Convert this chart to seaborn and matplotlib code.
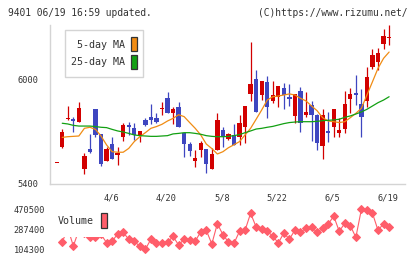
import numpy as np
import pandas as pd
import matplotlib
matplotlib.use("Agg")
import matplotlib.pyplot as plt
import matplotlib.transforms as mtransforms
from matplotlib.patches import Rectangle
import seaborn as sns

# ---------------- data ----------------
opens = [5519, 5614, 5774, 5773, 5757, 5488, 5601, 5830, 5687, 5534,
         5629, 5568, 5671, 5738, 5721, 5675, 5767, 5784, 5780, 5828,
         5891, 5809, 5839, 5694, 5629, 5534, 5597, 5601, 5488, 5595,
         5709, 5656, 5681, 5667, 5725, 5918, 6000, 5910, 5985, 5878,
         5900, 5948, 5900, 5792, 5933, 5795, 5853, 5795, 5620, 5704,
         5725, 5694, 5717, 5887, 5923, 5858, 5878, 6072, 6101, 6202, 6235]
highs = [5519, 5715, 5849, 5786, 5872, 5580, 5685, 5830, 5687, 5612,
         5671, 5610, 5748, 5757, 5748, 5704, 5776, 5858, 5805, 5872,
         5929, 5839, 5872, 5694, 5643, 5595, 5648, 5601, 5604, 5809,
         5725, 5690, 5744, 5795, 5847, 6214, 6053, 5990, 6019, 5990,
         5962, 5977, 5973, 5916, 5954, 5929, 5878, 5801, 5828, 5813,
         5828, 5776, 5933, 5948, 6025, 5942, 6072, 6172, 6177, 6286, 6311]
lows = [5519, 5604, 5767, 5700, 5757, 5459, 5576, 5667, 5503, 5530,
        5541, 5509, 5648, 5681, 5652, 5643, 5732, 5746, 5748, 5795,
        5809, 5742, 5729, 5557, 5561, 5499, 5553, 5465, 5488, 5595,
        5614, 5652, 5625, 5625, 5633, 5876, 5815, 5881, 5780, 5866,
        5843, 5828, 5847, 5748, 5700, 5782, 5648, 5595, 5545, 5641,
        5671, 5667, 5690, 5805, 5853, 5671, 5839, 6057, 6053, 6176, 6197]
closes = [5519, 5696, 5774, 5763, 5836, 5561, 5585, 5681, 5515, 5599,
          5541, 5580, 5740, 5729, 5681, 5704, 5738, 5769, 5757, 5828,
          5809, 5830, 5729, 5627, 5591, 5551, 5635, 5515, 5572, 5767,
          5667, 5687, 5625, 5748, 5847, 5973, 5815, 5990, 5843, 5910,
          5962, 5910, 5889, 5916, 5752, 5813, 5795, 5633, 5795, 5694,
          5828, 5709, 5858, 5916, 5912, 5786, 6011, 6139, 6149, 6248, 6235]

ma5 = [np.nan, 5667, 5671, 5673, 5675, 5719, 5725, 5713, 5675, 5624,
       5585, 5582, 5582, 5604, 5643, 5671, 5694, 5719, 5729, 5742,
       5761, 5776, 5797, 5786, 5752, 5719, 5681, 5629, 5603, 5572,
       5585, 5608, 5625, 5643, 5681, 5719, 5771, 5824, 5881, 5900,
       5904, 5910, 5916, 5910, 5891, 5876, 5847, 5820, 5780, 5761,
       5757, 5752, 5757, 5780, 5805, 5834, 5910, 5986, 6063, 6120, 6156]
ma25 = [np.nan, 5748, 5744, 5736, 5732, 5732, 5732, 5729, 5725, 5723,
        5713, 5704, 5698, 5690, 5681, 5677, 5675, 5673, 5673, 5675,
        5677, 5687, 5690, 5694, 5694, 5690, 5685, 5677, 5673, 5671,
        5671, 5673, 5677, 5683, 5694, 5704, 5715, 5719, 5725, 5730,
        5738, 5746, 5752, 5755, 5757, 5757, 5757, 5759, 5763, 5765,
        5767, 5771, 5782, 5790, 5801, 5813, 5828, 5847, 5866, 5881, 5900]

volume = [np.nan, 168000, 300000, 134000, 280000, 250000, 214000, 214000, 240000, 165000,
          178000, 244000, 260000, 196000, 178000, 132000, 104300, 196000, 162000, 162000,
          168000, 223000, 144000, 196000, 187000, 178000, 265000, 278000, 153000, 339000,
          238000, 171000, 159000, 269000, 278000, 434000, 308000, 287000, 269000, 226000,
          162000, 254000, 196000, 281000, 260000, 297000, 306000, 260000, 297000, 333000,
          409000, 269000, 342000, 320000, 214000, 470500, 464000, 434000, 278000, 339000, 306000]

date_labels = ["4/6", "4/20", "5/8", "5/22", "6/5", "6/19"]
date_index = [10, 20, 30, 40, 50, 60]
price_ticks = [5400, 6000]
vol_ticks = [104300, 287400, 470500]

# ---------------- style ----------------
W, H = 420, 259
sns.set_style("white")
plt.rcParams['font.family'] = ['DejaVu Sans Mono']
TXT = '#333333'
AX = '#d4d4d4'
RED = '#d20000'
BLUE = '#3e46c0'
ORANGE = '#f08c14'
GREEN = '#12a012'
VOLC = '#ff5d6a'

fig = plt.figure(figsize=(W / 100, H / 100), dpi=100)


def fr(x0, y0, x1, y1):
    return [x0 / W, 1 - y1 / H, (x1 - x0) / W, (y1 - y0) / H]


df = pd.DataFrame({"k": np.arange(len(closes)), "open": opens, "high": highs,
                   "low": lows, "close": closes, "ma5": ma5, "ma25": ma25,
                   "volume": volume})

# ---------------- price panel ----------------
ax = fig.add_axes(fr(50, 25, 405, 184))
ax.set_facecolor('none')
ax.set_xlim(-1.21, 62.87)
ax.set_ylim(5400, 6311)

up = df["close"] >= df["open"]
colors = np.where(up, RED, BLUE)
ax.vlines(df["k"], df["low"], df["high"], colors=colors, linewidth=0.9, zorder=2)
body = (df["close"] - df["open"]).abs().clip(lower=5)
bottom = np.minimum(df["open"], df["close"])
ax.bar(df["k"], body, bottom=bottom, width=0.78, color=colors, linewidth=0, zorder=3)

sns.lineplot(data=df, x="k", y="ma5", ax=ax, color=ORANGE, linewidth=0.9, zorder=4)
sns.lineplot(data=df, x="k", y="ma25", ax=ax, color=GREEN, linewidth=0.9, zorder=4)
ax.set_xlabel("")
ax.set_ylabel("")

for s in ["top", "right"]:
    ax.spines[s].set_visible(False)
for s in ["left", "bottom"]:
    ax.spines[s].set_color(AX)
    ax.spines[s].set_linewidth(1.0)

x0, x1 = ax.get_xlim()
ax.set_xticks([x0 + j * (x1 - x0) / 11 for j in range(12)])
ax.set_xticklabels([])
ax.tick_params(axis='x', direction='inout', length=7, width=1, color=AX)
ax.set_yticks(price_ticks)
ax.set_yticklabels([str(t) for t in price_ticks])
ax.tick_params(axis='y', direction='inout', length=6, width=1, color=AX,
               labelsize=6.2, labelcolor=TXT, pad=5)

trans = mtransforms.blended_transform_factory(ax.transData, ax.transAxes)
for lab, i in zip(date_labels, date_index):
    ax.text(i - 0.2, -0.088, lab, transform=trans, ha='center', va='center',
            fontsize=6.2, color=TXT)

# ---------------- volume panel ----------------
vax = fig.add_axes(fr(50, 205, 405, 253))
vax.set_facecolor('none')
vax.set_xlim(-1.21, 62.87)
vax.set_ylim(104300 - 3.7 * 9155, 470500 + 4.3 * 9155)
sns.lineplot(data=df, x="k", y="volume", ax=vax, color=VOLC, linewidth=0.8,
             marker='D', markersize=3.9, markeredgecolor=VOLC, markerfacecolor=VOLC)
vax.set_xlabel("")
vax.set_ylabel("")
for s in vax.spines.values():
    s.set_visible(False)
vax.set_xticks([])
vax.set_yticks(vol_ticks)
vax.set_yticklabels([str(t) for t in vol_ticks])
vax.tick_params(axis='y', length=0, labelsize=6.2, labelcolor=TXT, pad=3.5)

# ---------------- legends ----------------
fig.add_artist(Rectangle((65 / W, 1 - 77 / H), 78 / W, 47 / H, transform=fig.transFigure,
                         facecolor='white', edgecolor=AX, linewidth=1.0))
fig.add_artist(Rectangle((131 / W, 1 - 51 / H), 6 / W, 14 / H, transform=fig.transFigure,
                         facecolor=ORANGE, edgecolor='#333333', linewidth=0.9))
fig.add_artist(Rectangle((131 / W, 1 - 69 / H), 6 / W, 14 / H, transform=fig.transFigure,
                         facecolor=GREEN, edgecolor='#333333', linewidth=0.9))
fig.text(125 / W, 1 - 44.5 / H, "5-day MA", ha='right', va='center', fontsize=7.2, color=TXT)
fig.text(125 / W, 1 - 62 / H, "25-day MA", ha='right', va='center', fontsize=7.2, color=TXT)

fig.add_artist(Rectangle((55 / W, 1 - 236.5 / H), 56 / W, 32 / H, transform=fig.transFigure,
                         facecolor='white', edgecolor='none', linewidth=0))
fig.add_artist(Rectangle((101 / W, 1 - 228 / H), 6 / W, 15 / H, transform=fig.transFigure,
                         facecolor=VOLC, edgecolor='#333333', linewidth=0.9))
fig.text(58 / W, 1 - 221 / H, "Volume", ha='left', va='center', fontsize=7.2, color=TXT)

# ---------------- header ----------------
fig.text(8 / W, 1 - 13 / H, "9401 06/19 16:59 updated.", ha='left', va='center',
         fontsize=6.9, color=TXT)
fig.text(408 / W, 1 - 13 / H, "(C)https://www.rizumu.net/", ha='right', va='center',
         fontsize=6.9, color=TXT)

fig.savefig("out.png", dpi=100)
